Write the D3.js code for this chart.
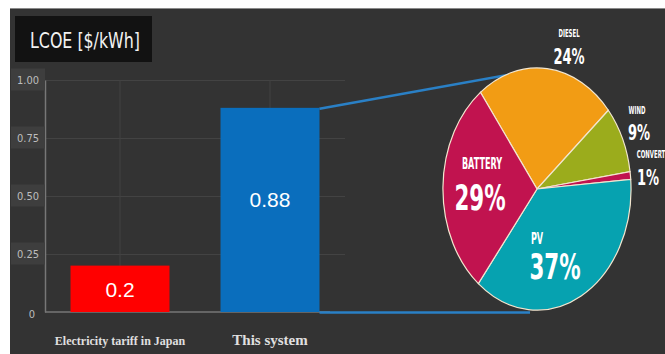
<!DOCTYPE html>
<html>
<head>
<meta charset="utf-8">
<script src="https://cdn.jsdelivr.net/npm/d3@7"></script>
<style>
  html, body { margin: 0; padding: 0; background: #fff; }
  svg { display: block; }
</style>
</head>
<body>
<svg id="chart" width="665" height="354"></svg>
<script>
// LCOE comparison: grid tariff vs. the hybrid system, with a cost breakdown pie
const categories = ["Electricity tariff in Japan", "This system"];
const lcoeValues = [0.2, 0.88];
const barLabels = ["0.2", "0.88"];
const barColors = ["#ff0000", "#0a6ebd"];

const yTicks = [0, 0.25, 0.5, 0.75, 1.0];
const yTickLabels = ["0", "0.25", "0.50", "0.75", "1.00"];

const shareNames = ["DIESEL", "WIND", "CONVERT", "PV", "BATTERY"];
const shareValues = [24, 9, 1, 37, 29];
const shareColors = ["#f29c14", "#9bac1c", "#c1134f", "#06a2b0", "#c1134f"];

const W = 665, H = 354;
const svg = d3.select("#chart");

// frame: white margin strip on top and left, dark panel elsewhere
svg.append("rect").attr("width", W).attr("height", H).attr("fill", "#ffffff");
svg.append("rect").attr("x", 10).attr("y", 8).attr("width", W - 10).attr("height", H - 8).attr("fill", "#333333");
svg.append("line").attr("x1", 10).attr("x2", W).attr("y1", 8.5).attr("y2", 8.5)
  .attr("stroke", "#8a8a8a").attr("stroke-width", 1);

// title box
svg.append("rect").attr("x", 15).attr("y", 16).attr("width", 137).attr("height", 46).attr("fill", "#121212");
svg.append("text")
  .attr("transform", "translate(85,48) scale(0.8,1)")
  .attr("text-anchor", "middle")
  .attr("font-family", "DejaVu Sans Condensed, DejaVu Sans")
  .attr("font-size", 22)
  .attr("fill", "#f2f2f2")
  .text("LCOE [$/kWh]");

// scales
const y = d3.scaleLinear().domain([0, 1]).range([312, 80]);
const x = d3.scaleBand().domain(categories).range([45, 345]).paddingInner(0.34).paddingOuter(0.17);

// grid
const grid = svg.append("g");
grid.selectAll("line.h").data(yTicks.slice(1)).join("line")
  .attr("x1", 45).attr("x2", 345)
  .attr("y1", d => y(d) + 0.5).attr("y2", d => y(d) + 0.5)
  .attr("stroke", "#434343").attr("stroke-width", 1);
grid.selectAll("line.v").data(categories).join("line")
  .attr("x1", d => x(d) + x.bandwidth() / 2).attr("x2", d => x(d) + x.bandwidth() / 2)
  .attr("y1", y(1)).attr("y2", y(0))
  .attr("stroke", "#434343").attr("stroke-width", 1);

// y axis via d3.axisLeft, then restyled
const yAxis = svg.append("g")
  .attr("transform", "translate(45,0)")
  .call(d3.axisLeft(y).tickValues(yTicks).tickFormat((d, i) => yTickLabels[i]).tickSize(0).tickPadding(6));
yAxis.select(".domain").attr("stroke", "#777").attr("stroke-width", 1.5);
yAxis.selectAll(".tick").each(function (d) {
  if (d === 0) return;
  d3.select(this).insert("rect", "text")
    .attr("x", -34).attr("y", -12).attr("width", 34).attr("height", 22)
    .attr("fill", "#3e3e3e");
});
yAxis.selectAll(".tick text")
  .attr("fill", "#bdbdbd")
  .attr("font-family", "DejaVu Sans Condensed, DejaVu Sans")
  .attr("font-size", 11)
  .attr("dy", "0.32em");
yAxis.selectAll(".tick").filter(d => d === 0).select("text").attr("dx", -4).attr("dy", "0.5em");

// baseline
svg.append("line").attr("x1", 45).attr("x2", 330).attr("y1", y(0)).attr("y2", y(0))
  .attr("stroke", "#777").attr("stroke-width", 1.5);

// bars
svg.selectAll("rect.bar").data(categories).join("rect")
  .attr("class", "bar")
  .attr("x", d => x(d))
  .attr("width", x.bandwidth())
  .attr("y", (d, i) => y(lcoeValues[i]))
  .attr("height", (d, i) => y(0) - y(lcoeValues[i]))
  .attr("fill", (d, i) => barColors[i]);

svg.selectAll("text.val").data(categories).join("text")
  .attr("class", "val")
  .attr("x", d => x(d) + x.bandwidth() / 2)
  .attr("y", (d, i) => i === 0 ? y(lcoeValues[i] / 2) + 8 : 207)
  .attr("text-anchor", "middle")
  .attr("font-family", "Liberation Sans, Arial")
  .attr("font-size", 21)
  .attr("fill", "#ffffff")
  .text((d, i) => barLabels[i]);

// category labels
svg.selectAll("text.cat").data(categories).join("text")
  .attr("class", "cat")
  .attr("x", d => x(d) + x.bandwidth() / 2)
  .attr("y", 345)
  .attr("text-anchor", "middle")
  .attr("font-family", "Liberation Serif, Times New Roman")
  .attr("font-weight", "bold")
  .attr("font-size", (d, i) => i === 0 ? 12 : 15)
  .attr("fill", "#e0e0e0")
  .text(d => d);

// pie (elliptical)
const cx = 537, cy = 189, rx = 94, ry = 121;
const startDeg = -37;
const pie = d3.pie().sort(null).value(d => d)
  .startAngle(startDeg * Math.PI / 180)
  .endAngle((startDeg + 360) * Math.PI / 180);
const arcs = pie(shareValues);
const arc = d3.arc().innerRadius(0).outerRadius(1);

// connectors from the system bar to the pie
const sys = categories[1];
svg.append("line")
  .attr("x1", x(sys) + x.bandwidth()).attr("y1", y(lcoeValues[1]) + 1)
  .attr("x2", cx + 3).attr("y2", cy - ry + 1)
  .attr("stroke", "#2a80c6").attr("stroke-width", 2.5);
svg.append("line")
  .attr("x1", x(sys) + x.bandwidth()).attr("y1", y(0) + 0.5)
  .attr("x2", cx - 7).attr("y2", y(0) + 0.5)
  .attr("stroke", "#2a80c6").attr("stroke-width", 2.5);

const pg = svg.append("g").attr("transform", `translate(${cx},${cy}) scale(${rx},${ry})`);
pg.selectAll("path").data(arcs).join("path")
  .attr("d", arc)
  .attr("fill", (d, i) => shareColors[i])
  .attr("stroke", "#f3e6cf")
  .attr("stroke-width", 1.2)
  .attr("vector-effect", "non-scaling-stroke");

// pie labels
const labelFont = "DejaVu Sans Condensed, DejaVu Sans";
function condensed(xp, yp, size, txt, sx) {
  svg.append("text")
    .attr("transform", `translate(${xp},${yp}) scale(${sx},1)`)
    .attr("text-anchor", "middle")
    .attr("font-family", labelFont)
    .attr("font-weight", "bold")
    .attr("font-size", size)
    .attr("fill", "#ffffff")
    .text(txt);
}
const labelPos = [
  { nx: 569, ny: 37, px: 569, py: 64, ns: 10, ps: 22 },
  { nx: 637, ny: 114, px: 639, py: 140, ns: 10, ps: 22 },
  { nx: 651, ny: 158, px: 648, py: 185, ns: 10, ps: 22 },
  { nx: 537, ny: 244, px: 555, py: 279, ns: 15, ps: 36 },
  { nx: 482, ny: 169, px: 480, py: 210, ns: 15, ps: 36 }
];
labelPos.forEach((p, i) => {
  condensed(p.nx, p.ny, p.ns, shareNames[i], 0.6);
  condensed(p.px, p.py, p.ps, shareValues[i] + "%", 0.66);
});
</script>
</body>
</html>
